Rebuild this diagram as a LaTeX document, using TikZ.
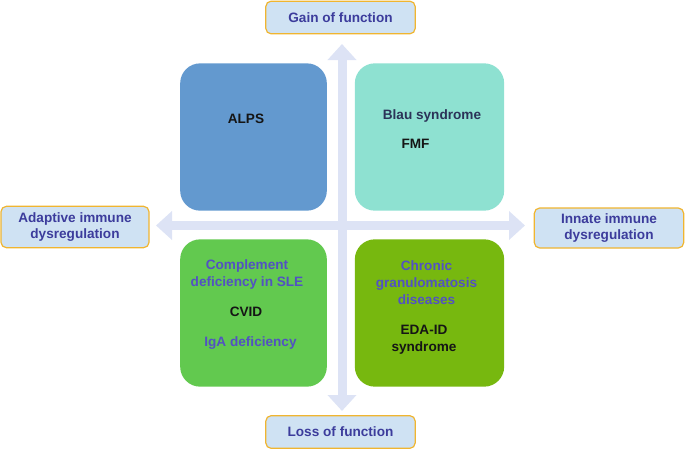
\documentclass[tikz,border=0pt]{standalone}
\usepackage{fontspec}
\setmainfont{Liberation Sans}
\usetikzlibrary{arrows.meta}
\definecolor{axiscol}{HTML}{DDE3F5}
\definecolor{labfill}{HTML}{CFE2F3}
\definecolor{labdraw}{HTML}{F0B530}
\definecolor{labtext}{HTML}{3C3C9C}
\definecolor{alpscol}{HTML}{6399CF}
\definecolor{blaucol}{HTML}{8EE1D1}
\definecolor{compcol}{HTML}{62C94F}
\definecolor{chroncol}{HTML}{77B80F}
\definecolor{violtext}{HTML}{5252C2}
\definecolor{navytext}{HTML}{2B3358}
\definecolor{darktext}{HTML}{151515}
\tikzset{
  labelbox/.style={draw=labdraw, line width=0.9pt, fill=labfill, rounded corners=4pt,
    text=labtext, font=\bfseries\fontsize{10.2}{11.8}\selectfont, align=center, inner sep=0pt},
  quadbox/.style={rounded corners=15pt, inner sep=0pt, minimum width=110.5pt, minimum height=110.5pt},
  qtext/.style={font=\bfseries\fontsize{10.2}{12.5}\selectfont, align=center, inner sep=0pt},
  axisline/.style={draw=axiscol, line width=6.75pt, {Triangle[width=21pt,length=12pt]}-{Triangle[width=21pt,length=12pt]}, color=axiscol}
}
\begin{document}
\begin{tikzpicture}[x=0.75pt,y=-0.75pt]
\useasboundingbox (0,0) rectangle (685,450);
% quadrant boxes
\node[quadbox, fill=alpscol, minimum width=110pt] (alps) at (253.5,137) {};
\node[quadbox, fill=blaucol, minimum width=112pt] (blau) at (429.5,137) {};
\node[quadbox, fill=compcol, minimum width=110pt] (comp) at (253.5,313) {};
\node[quadbox, fill=chroncol, minimum width=112pt] (chron) at (429.5,313) {};
% axes
\coordinate (vt) at (342,44);
\coordinate (vb) at (342,411);
\coordinate (hl) at (156,225.5);
\coordinate (hr) at (525,225.5);
\draw[axisline] (vb) -- (vt);
\draw[axisline] (hl) -- (hr);
% label boxes
\node[labelbox, minimum width=112pt, minimum height=24.5pt] (gain) at (340.5,17.5) {Gain of function};
\node[labelbox, minimum width=112pt, minimum height=24.5pt] (loss) at (340.5,432) {Loss of function};
\node[labelbox, minimum width=111pt, minimum height=31pt] (adapt) at (75,227) {Adaptive immune\\dysregulation};
\node[labelbox, minimum width=112pt, minimum height=30pt] (innate) at (609,228) {Innate immune\\dysregulation};
% quadrant texts
\node[qtext, text=darktext] (talps) at (246,119) {ALPS};
\node[qtext, text=navytext] (tblau) at (432,115.5) {Blau syndrome};
\node[qtext, text=darktext] (tfmf) at (415.5,144) {FMF};
\node[qtext, text=violtext] (tcomp) at (247,274.5) {Complement\\deficiency in SLE};
\node[qtext, text=darktext] (tcvid) at (246,312) {CVID};
\node[qtext, text=violtext] (tiga) at (250.5,343) {IgA deficiency};
\node[qtext, text=violtext] (tchron) at (426.5,282.5) {Chronic\\granulomatosis\\diseases};
\node[qtext, text=darktext] (teda) at (424,340) {EDA-ID\\syndrome};
\end{tikzpicture}
\end{document}
